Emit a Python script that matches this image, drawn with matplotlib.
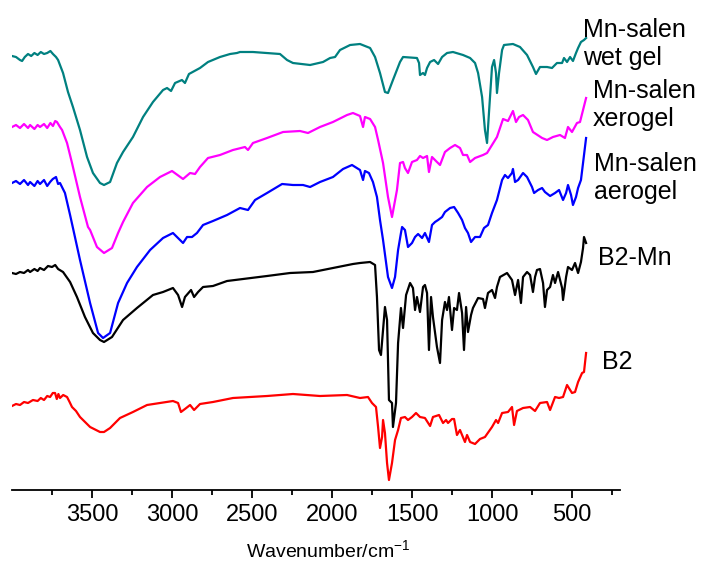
"""FTIR spectra of B2, B2-Mn and the Mn-salen gels (stacked, offset)."""

import matplotlib

matplotlib.use("Agg")
import matplotlib.pyplot as plt
import numpy as np

plt.rcParams["font.family"] = ["Liberation Sans", "DejaVu Sans"]
plt.rcParams["mathtext.fontset"] = "custom"
plt.rcParams["mathtext.rm"] = "Liberation Sans"
plt.rcParams["mathtext.it"] = "Liberation Sans"

# (wavenumber cm-1, transmittance a.u. incl. stacking offset)
wet_gel = [
    (4000, 434), (3975, 433), (3950, 430), (3937, 429), (3920, 433), (3900, 436),
    (3880, 434), (3860, 437), (3840, 435), (3820, 438), (3800, 436), (3780, 437),
    (3760, 439), (3744, 436), (3725, 433), (3712, 430), (3681, 417), (3650, 398),
    (3619, 383), (3575, 360), (3531, 333), (3494, 317), (3450, 307), (3425, 305),
    (3387, 308), (3344, 327), (3306, 338), (3244, 353), (3181, 373), (3119, 388),
    (3056, 400), (3031, 402), (3006, 399), (2981, 407), (2938, 410), (2919, 407),
    (2894, 416), (2825, 422), (2775, 428), (2700, 433), (2637, 436), (2594, 437),
    (2575, 438), (2494, 438), (2325, 436), (2281, 430), (2244, 427), (2137, 425),
    (2056, 428), (2012, 432), (1981, 433), (1950, 440), (1887, 445), (1825, 446),
    (1762, 442), (1731, 433), (1700, 417), (1669, 398), (1650, 397), (1619, 410),
    (1575, 428), (1556, 433), (1469, 432), (1456, 427), (1450, 415), (1431, 417),
    (1419, 415), (1406, 422), (1387, 428), (1362, 430), (1337, 426), (1312, 433),
    (1281, 437), (1244, 438), (1181, 435), (1137, 432), (1106, 427), (1087, 417),
    (1062, 393), (1044, 360), (1031, 347), (1019, 377), (1000, 423), (987, 430),
    (975, 417), (969, 397), (956, 417), (937, 440), (925, 445), (869, 446),
    (825, 443), (781, 435), (744, 423), (725, 416), (700, 423), (656, 423),
    (625, 422), (594, 427), (562, 427), (550, 432), (531, 428), (512, 433),
    (494, 429), (475, 437), (462, 442), (444, 448), (425, 450), (412, 452),
]

xerogel = [
    (4000, 363), (3975, 365), (3950, 362), (3925, 366), (3900, 362), (3887, 365),
    (3860, 361), (3840, 365), (3825, 363), (3800, 366), (3780, 362), (3760, 367),
    (3744, 364), (3730, 369), (3719, 368), (3700, 363), (3687, 360), (3656, 347),
    (3625, 327), (3575, 293), (3525, 263), (3512, 260), (3469, 243), (3425, 237),
    (3375, 242), (3337, 257), (3306, 268), (3244, 287), (3156, 303), (3075, 313),
    (3000, 319), (2931, 311), (2887, 317), (2856, 316), (2825, 323), (2775, 332),
    (2700, 335), (2619, 340), (2544, 343), (2525, 340), (2494, 347), (2406, 352),
    (2306, 358), (2200, 359), (2150, 357), (2075, 363), (1994, 368), (1906, 375),
    (1869, 377), (1825, 374), (1806, 363), (1794, 373), (1762, 371), (1731, 363),
    (1712, 350), (1681, 327), (1650, 293), (1625, 273), (1594, 300), (1575, 327),
    (1556, 328), (1544, 322), (1525, 317), (1500, 328), (1469, 330), (1450, 334),
    (1431, 332), (1406, 334), (1394, 318), (1375, 333), (1344, 328), (1325, 325),
    (1294, 338), (1262, 342), (1231, 345), (1200, 342), (1181, 335), (1156, 335),
    (1137, 328), (1106, 332), (1056, 335), (1031, 337), (1000, 345), (969, 353),
    (931, 371), (900, 369), (869, 379), (850, 368), (831, 373), (806, 375),
    (775, 370), (744, 358), (687, 352), (656, 350), (619, 353), (575, 355),
    (544, 352), (525, 363), (500, 358), (469, 367), (450, 368), (431, 380),
    (412, 392),
]

aerogel = [
    (4000, 307), (3975, 309), (3950, 306), (3925, 310), (3900, 305), (3887, 308),
    (3860, 304), (3840, 309), (3825, 306), (3800, 310), (3780, 304), (3762, 308),
    (3745, 311), (3725, 313), (3712, 306), (3700, 307), (3669, 297), (3637, 275),
    (3619, 262), (3575, 230), (3512, 187), (3462, 157), (3431, 152), (3387, 157),
    (3337, 187), (3281, 207), (3219, 223), (3137, 240), (3056, 252), (2994, 257),
    (2931, 247), (2906, 253), (2875, 253), (2844, 257), (2806, 265), (2744, 269),
    (2656, 275), (2575, 282), (2525, 280), (2481, 290), (2406, 297), (2312, 306),
    (2244, 305), (2181, 305), (2137, 303), (2075, 308), (1994, 313), (1931, 321),
    (1875, 325), (1825, 320), (1806, 310), (1794, 319), (1769, 317), (1744, 308),
    (1719, 293), (1700, 270), (1681, 250), (1650, 213), (1625, 202), (1606, 213),
    (1587, 240), (1569, 257), (1562, 263), (1544, 260), (1525, 243), (1500, 247),
    (1481, 253), (1462, 256), (1437, 252), (1419, 257), (1394, 248), (1375, 265),
    (1356, 268), (1337, 270), (1312, 273), (1294, 278), (1262, 282), (1237, 283),
    (1212, 277), (1187, 270), (1169, 262), (1150, 257), (1131, 248), (1106, 253),
    (1075, 253), (1050, 262), (1025, 265), (1000, 277), (969, 290), (937, 310),
    (919, 315), (900, 312), (875, 317), (869, 321), (856, 308), (837, 310),
    (806, 317), (781, 313), (750, 303), (737, 297), (712, 300), (687, 302),
    (669, 298), (637, 294), (606, 297), (581, 300), (556, 290), (537, 297),
    (525, 305), (506, 295), (494, 285), (475, 293), (462, 302), (444, 310),
    (431, 327), (412, 352),
]

b2_mn = [
    (4000, 217), (3975, 216), (3950, 218), (3925, 217), (3900, 220), (3887, 218),
    (3860, 221), (3840, 219), (3825, 222), (3800, 220), (3775, 224), (3750, 223),
    (3730, 225), (3712, 221), (3681, 218), (3637, 208), (3594, 193), (3544, 173),
    (3494, 157), (3450, 150), (3425, 148), (3375, 153), (3306, 170), (3219, 182),
    (3119, 195), (3056, 198), (2994, 202), (2962, 195), (2937, 183), (2919, 193),
    (2881, 200), (2862, 193), (2837, 198), (2806, 203), (2744, 204), (2656, 209),
    (2556, 211), (2406, 214), (2262, 217), (2119, 218), (1994, 222), (1869, 226),
    (1825, 227), (1762, 228), (1731, 225), (1719, 193), (1706, 140), (1694, 135),
    (1681, 160), (1669, 183), (1656, 170), (1644, 90), (1625, 87), (1619, 63),
    (1600, 87), (1587, 147), (1569, 182), (1556, 162), (1537, 195), (1512, 207),
    (1494, 202), (1481, 180), (1469, 193), (1450, 178), (1431, 203), (1419, 205),
    (1406, 197), (1394, 140), (1381, 193), (1369, 173), (1344, 143), (1325, 127),
    (1312, 170), (1294, 188), (1281, 180), (1269, 193), (1250, 160), (1237, 182),
    (1219, 180), (1206, 197), (1187, 177), (1175, 140), (1162, 183), (1150, 158),
    (1131, 175), (1119, 182), (1087, 192), (1056, 191), (1044, 182), (1025, 197),
    (1000, 200), (981, 192), (969, 203), (950, 213), (906, 217), (875, 210),
    (856, 195), (837, 210), (819, 187), (806, 213), (781, 218), (762, 215),
    (744, 198), (731, 213), (719, 220), (700, 221), (681, 207), (669, 183),
    (656, 200), (637, 203), (619, 215), (606, 207), (587, 218), (562, 202),
    (556, 190), (537, 213), (525, 223), (500, 220), (481, 227), (462, 217),
    (444, 228), (431, 242), (425, 253), (412, 247),
]

b2 = [
    (4000, 84), (3975, 86), (3950, 85), (3925, 88), (3900, 87), (3869, 90),
    (3840, 89), (3820, 92), (3800, 90), (3780, 94), (3762, 93), (3745, 97),
    (3731, 97), (3720, 91), (3710, 96), (3700, 92), (3680, 95), (3656, 93),
    (3640, 88), (3625, 83), (3600, 79), (3575, 73), (3512, 63), (3450, 58),
    (3425, 58), (3387, 62), (3325, 72), (3244, 78), (3156, 85), (3075, 87),
    (2994, 89), (2962, 87), (2944, 78), (2919, 81), (2887, 85), (2862, 80),
    (2825, 86), (2744, 88), (2619, 92), (2406, 94), (2244, 96), (2075, 94),
    (1906, 95), (1825, 92), (1775, 93), (1750, 87), (1725, 83), (1712, 63),
    (1700, 42), (1687, 53), (1681, 70), (1669, 57), (1656, 27), (1644, 10),
    (1625, 27), (1606, 50), (1587, 60), (1569, 72), (1544, 73), (1525, 70),
    (1500, 73), (1475, 77), (1450, 73), (1419, 72), (1387, 64), (1369, 73),
    (1331, 75), (1306, 67), (1287, 70), (1275, 67), (1250, 71), (1237, 71),
    (1219, 55), (1200, 60), (1169, 48), (1156, 55), (1137, 48), (1106, 46),
    (1075, 51), (1044, 53), (1000, 63), (975, 70), (962, 67), (937, 77),
    (900, 78), (875, 83), (862, 65), (844, 79), (806, 82), (762, 83),
    (731, 79), (700, 87), (656, 88), (637, 80), (606, 93), (581, 92),
    (556, 93), (531, 105), (500, 97), (481, 98), (462, 108), (437, 117),
    (425, 118), (412, 137),
]

spectra = [wet_gel, xerogel, aerogel, b2_mn, b2]
colors = ["#008080", "#ff00ff", "#0000ff", "#000000", "#ff0000"]
labels = ["Mn-salen\nwet gel", "Mn-salen\nxerogel", "Mn-salen\naerogel", "B2-Mn", "B2"]
# label anchor (wavenumber, a.u.) at the right-hand end of each trace
label_pos = [(431, 446), (369, 385), (362, 312), (337, 232), (312, 128)]

fig = plt.figure(figsize=(7.04, 5.63), dpi=100)
ax = fig.add_axes([12 / 704, 73 / 563, 608 / 704, 480 / 563])

for data, color in zip(spectra, colors):
    wn, val = np.array(data, dtype=float).T
    ax.plot(wn, val, color=color, lw=1.6)

for text, (x, y) in zip(labels, label_pos):
    ax.text(x, y, text, fontsize=18, ha="left", va="center", clip_on=False)

ax.set_xlim(4000, 200)
ax.set_ylim(0, 480)
ax.set_xticks([3500, 3000, 2500, 2000, 1500, 1000, 500])
ax.set_xticks(np.arange(3750, 200, -500), minor=True)
ax.set_yticks([])
for side in ("left", "right", "top"):
    ax.spines[side].set_visible(False)
ax.spines["bottom"].set_linewidth(1.3)
ax.tick_params(axis="x", which="major", length=6, width=1.3, labelsize=17, pad=4)
ax.tick_params(axis="x", which="minor", length=3.5, width=1.3)
ax.set_xlabel("Wavenumber/cm$^{-1}$", fontsize=14)
ax.xaxis.set_label_coords(0.52, -0.102)

fig.savefig("out.png", dpi=100)
